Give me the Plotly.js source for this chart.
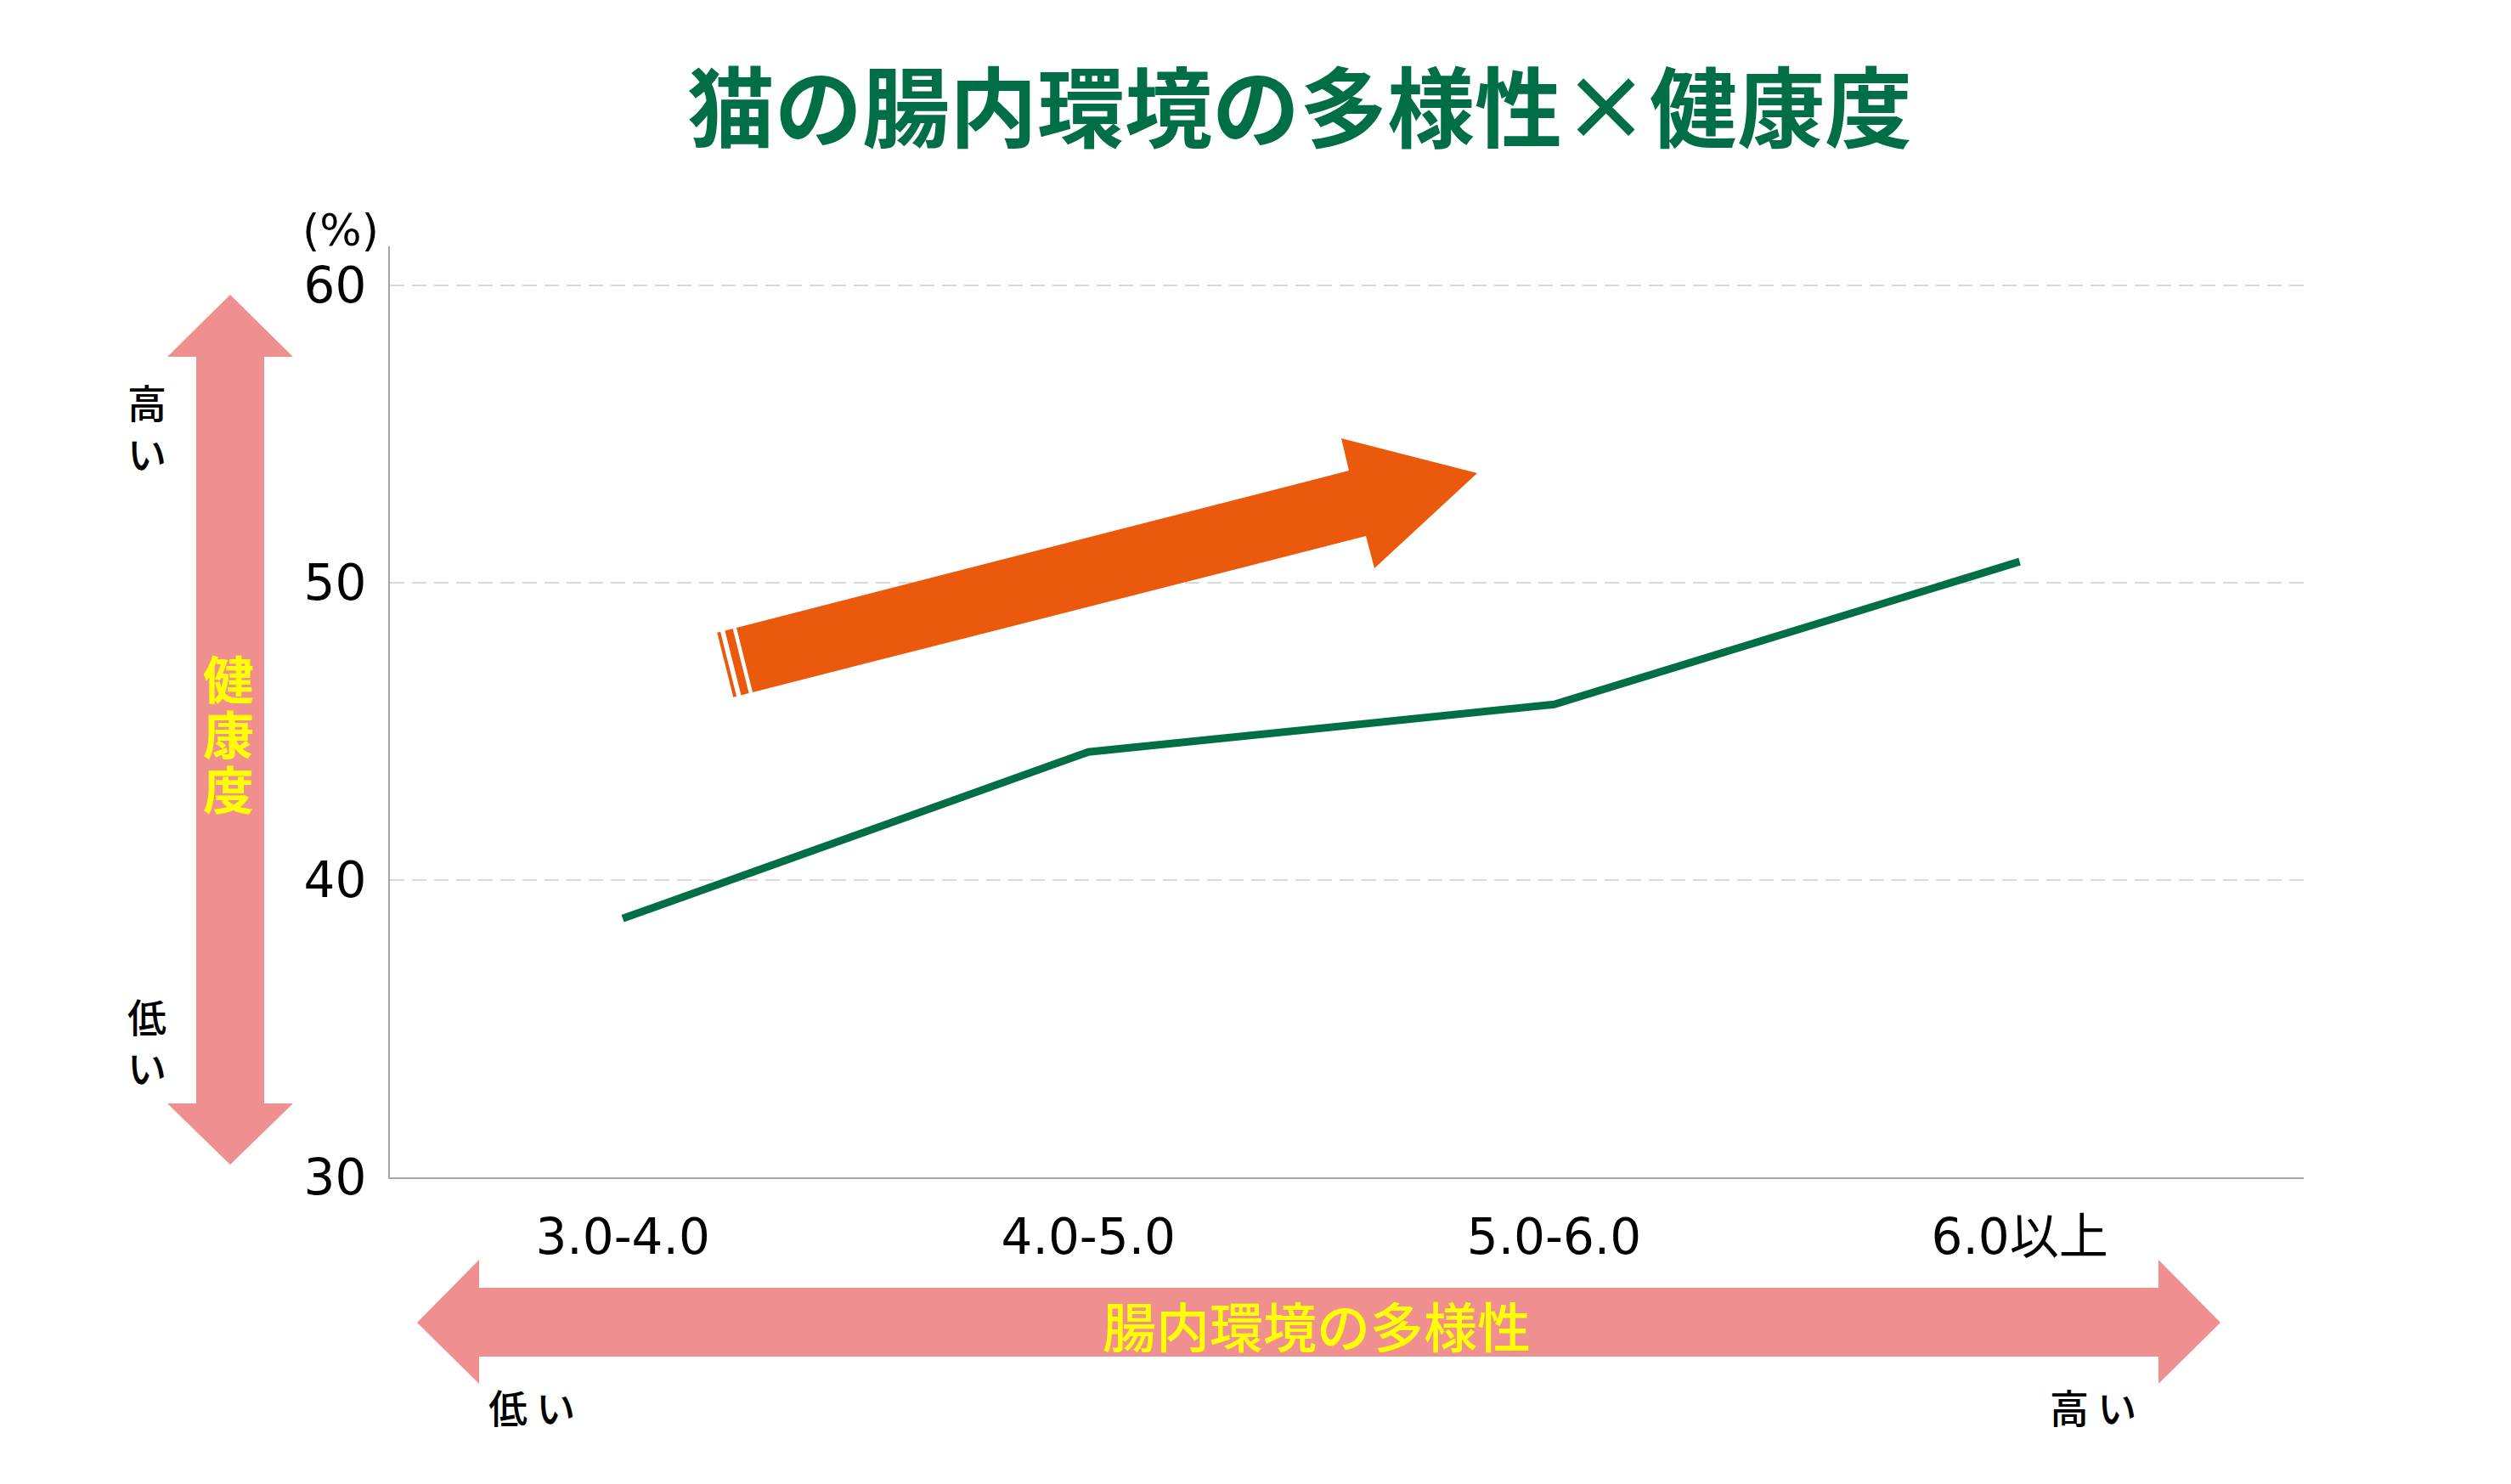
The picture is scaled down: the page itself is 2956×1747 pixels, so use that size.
<!DOCTYPE html>
<html>
<head>
<meta charset="utf-8">
<script src="https://cdn.plot.ly/plotly-3.0.1.min.js"></script>
<style>
  html, body { margin: 0; padding: 0; background: #fff; }
  #chart { width: 2956px; height: 1747px; }
</style>
</head>
<body>
<div id="chart"></div>
<script>
// data
const categories = ['3.0-4.0', '4.0-5.0', '5.0-6.0', '6.0以上'];
const healthScore = [38.7, 44.3, 45.9, 50.7];
const yTicks = [30, 40, 50, 60];

const W = 2956, H = 1747;
const M = {l: 459, r: 244, t: 290, b: 361};
const PW = W - M.l - M.r, PH = H - M.t - M.b;

const GREEN = '#006f45';
const PINK = '#f08f90';
const ORANGE = '#eb5a0c';
const YELLOW = '#ffff00';
const JP = 'Noto Sans CJK JP';

// page pixel -> paper coords
function px(x) { return (x - M.l) / PW; }
function py(y) { return (M.t + PH - y) / PH; }
function poly(pts) {
  return 'M' + pts.map(p => px(p[0]).toFixed(5) + ',' + py(p[1]).toFixed(5)).join(' L') + ' Z';
}
function deco(pts, color) {
  return {type: 'path', xref: 'paper', yref: 'paper', path: poly(pts),
          fillcolor: color, line: {width: 0}, layer: 'above'};
}

// big orange arrow with two thin strips at the tail
const tailTop = [867, 739], tailBot = [886, 815];
const ux = 0.9687, uy = -0.2486;
function strip(a, b) {
  return [[tailTop[0] + ux * a, tailTop[1] + uy * a], [tailTop[0] + ux * b, tailTop[1] + uy * b],
          [tailBot[0] + ux * b, tailBot[1] + uy * b], [tailBot[0] + ux * a, tailBot[1] + uy * a]];
}
const shapes = [
  deco([[271, 347], [345, 420], [311, 420], [311, 1299], [345, 1299], [271, 1371],
        [197, 1299], [231, 1299], [231, 420], [197, 420]], PINK),
  deco([[491, 1557], [564, 1483], [564, 1516], [2541, 1516], [2541, 1483], [2614, 1557],
        [2541, 1629], [2541, 1597], [564, 1597], [564, 1629]], PINK),
  deco([tailTop, [1588, 554], [1579, 516], [1739, 557], [1618, 669], [1608, 631], tailBot], ORANGE),
  deco(strip(-14, -4.5), ORANGE),
  deco(strip(-23.5, -19.5), ORANGE)
];

function label(text, x, y, size, color, weight, family) {
  return {text: text, xref: 'paper', yref: 'paper', x: px(x), y: py(y),
          xanchor: 'center', yanchor: 'middle', showarrow: false,
          font: {family: family || JP, size: size, color: color, weight: weight || 400}};
}
const annotations = [
  label('(%)', 401, 271, 52, '#000', 400, 'DejaVu Sans'),
  label('健', 269, 796, 60, YELLOW, 700),
  label('康', 269, 861, 60, YELLOW, 700),
  label('度', 269, 926, 60, YELLOW, 700),
  label('高<br>い', 173, 502, 46, '#000', 500),
  label('低<br>い', 173, 1225, 46, '#000', 500),
  label('腸内環境の多様性', 1550, 1558, 63, YELLOW, 500),
  label('低 い', 626, 1655, 46, '#000', 500),
  label('高 い', 2464, 1655, 46, '#000', 500)
];

const traces = [{
  x: categories,
  y: healthScore,
  type: 'scatter',
  mode: 'lines',
  line: {color: GREEN, width: 9},
  hoverinfo: 'skip'
}];

const layout = {
  width: W, height: H,
  margin: M,
  paper_bgcolor: '#fff', plot_bgcolor: '#fff',
  showlegend: false,
  title: {
    text: '猫の腸内環境の多様性×健康度',
    xref: 'container', yref: 'container',
    x: 1530 / W, y: 1 - 130 / H, xanchor: 'center', yanchor: 'middle',
    font: {family: JP, size: 103, color: GREEN, weight: 700}
  },
  xaxis: {
    type: 'category',
    range: [-0.5, 3.61],
    showline: true, linecolor: '#a6a6a6', linewidth: 2,
    showgrid: false, zeroline: false, ticks: '',
    ticklabelstandoff: 18,
    tickfont: {family: 'DejaVu Sans, ' + JP, size: 58, color: '#000'},
    fixedrange: true
  },
  yaxis: {
    range: [30, 61.3],
    tickvals: yTicks,
    showline: true, linecolor: '#a6a6a6', linewidth: 2,
    showgrid: true, gridcolor: '#d9d9d9', gridwidth: 2, griddash: '17px,9px',
    zeroline: false, ticks: '',
    ticklabelstandoff: 14,
    tickfont: {family: 'DejaVu Sans', size: 58, color: '#000'},
    fixedrange: true
  },
  shapes: shapes,
  annotations: annotations
};

Plotly.newPlot('chart', traces, layout, {displayModeBar: false, staticPlot: true});
</script>
</body>
</html>
